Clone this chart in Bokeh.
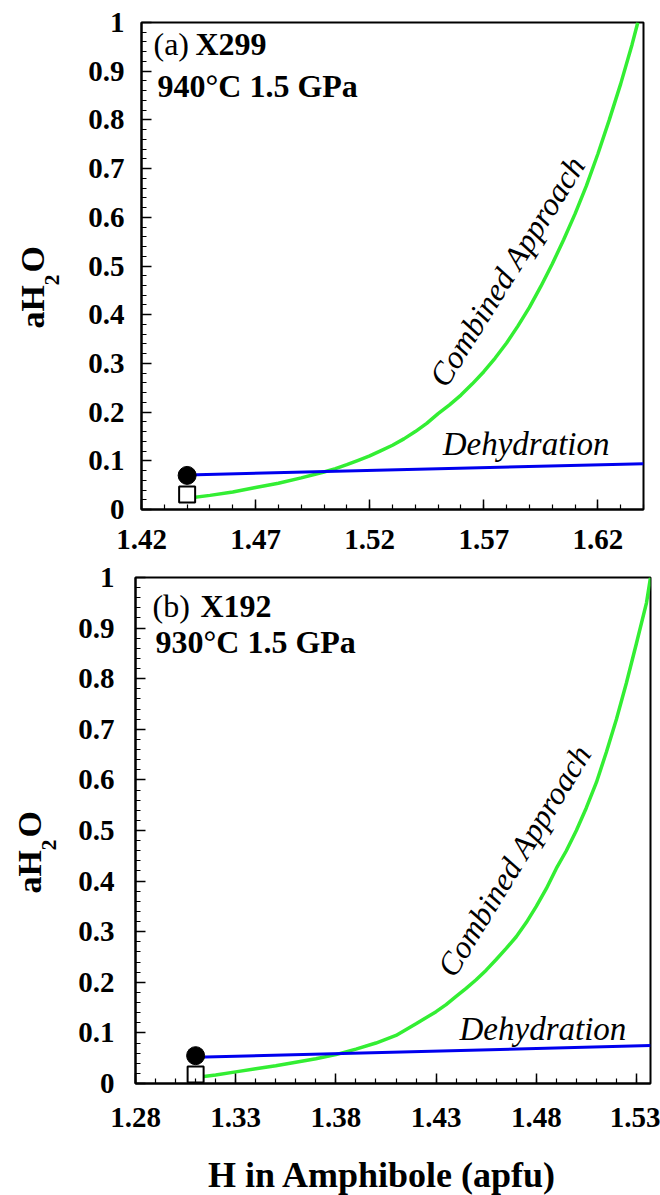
import math
from bokeh.plotting import figure
from bokeh.models import FixedTicker, Label, Range1d
from bokeh.layouts import column, row
from bokeh.embed import file_html
from bokeh.resources import INLINE

# ---------------- data: panel (a) X299, 940 C 1.5 GPa ----------------
a_comb_x = [1.44, 1.45, 1.46, 1.47, 1.48, 1.49, 1.50, 1.505, 1.51, 1.515, 1.52, 1.525,
            1.53, 1.535, 1.54, 1.545, 1.55, 1.555, 1.56, 1.565, 1.57, 1.575, 1.58,
            1.585, 1.59, 1.595, 1.60, 1.605, 1.61, 1.615, 1.62, 1.625, 1.63, 1.635, 1.6375]
a_comb_y = [0.023, 0.029, 0.036, 0.045, 0.054, 0.065, 0.077, 0.084, 0.092, 0.101, 0.110, 0.121,
            0.132, 0.145, 0.160, 0.177, 0.197, 0.215, 0.235, 0.258, 0.283, 0.311, 0.342,
            0.377, 0.415, 0.458, 0.504, 0.554, 0.607, 0.665, 0.730, 0.800, 0.874, 0.955, 1.0]
a_dehyd_x = [1.44, 1.64]
a_dehyd_y = [0.071, 0.094]
a_circle_x = [1.44]
a_circle_y = [0.070]
a_square_x = [1.44]
a_square_y = [0.031]
a_xtick_labels = ["1.42", "1.47", "1.52", "1.57", "1.62"]

# ---------------- data: panel (b) X192, 930 C 1.5 GPa ----------------
b_comb_x = [1.31, 1.32, 1.33, 1.34, 1.35, 1.36, 1.37, 1.38, 1.39, 1.40, 1.41, 1.42,
            1.43, 1.435, 1.44, 1.445, 1.45, 1.455, 1.46, 1.465, 1.47, 1.475, 1.48,
            1.485, 1.49, 1.495, 1.50, 1.505, 1.51, 1.515, 1.52, 1.525, 1.53, 1.535, 1.537]
b_comb_y = [0.012, 0.017, 0.023, 0.029, 0.035, 0.042, 0.049, 0.057, 0.068, 0.080, 0.095, 0.118,
            0.142, 0.156, 0.172, 0.188, 0.205, 0.224, 0.245, 0.267, 0.290, 0.318, 0.350,
            0.385, 0.425, 0.460, 0.500, 0.545, 0.595, 0.655, 0.720, 0.792, 0.870, 0.950, 1.0]
b_dehyd_x = [1.31, 1.537]
b_dehyd_y = [0.052, 0.075]
b_circle_x = [1.31]
b_circle_y = [0.055]
b_square_x = [1.31]
b_square_y = [0.018]
b_xtick_labels = ["1.28", "1.33", "1.38", "1.43", "1.48", "1.53"]

ytick_labels = ["0", "0.1", "0.2", "0.3", "0.4", "0.5", "0.6", "0.7", "0.8", "0.9", "1"]

FONT = "Liberation Serif"
GREEN = "#33ee33"
BLUE = "#0000ee"
LEFT_W = 72


def make_panel(width, height, mb, xr, xtick_labels, x_standoff, y_standoff):
    p = figure(width=width, height=height, output_backend="svg", toolbar_location=None,
               x_range=Range1d(*xr), y_range=Range1d(0, 1),
               min_border_left=mb[0], min_border_right=mb[1],
               min_border_top=mb[2], min_border_bottom=mb[3])
    p.xgrid.visible = False
    p.ygrid.visible = False
    p.outline_line_color = "black"
    p.outline_line_width = 2
    p.background_fill_color = "white"
    p.border_fill_color = "white"

    xt = [float(s) for s in xtick_labels]
    nminor = int(round((xr[1] - xr[0]) / 0.01))
    xminor = [round(xr[0] + 0.01 * i, 2) for i in range(nminor + 1)]
    p.xaxis.ticker = FixedTicker(ticks=xt, minor_ticks=xminor)
    p.xaxis.major_label_overrides = {float(s): s for s in xtick_labels}
    yt = [float(s) for s in ytick_labels]
    yminor = [round(0.02 * i, 2) for i in range(51)]
    p.yaxis.ticker = FixedTicker(ticks=yt, minor_ticks=yminor)
    p.yaxis.major_label_overrides = {float(s): s for s in ytick_labels}

    for ax in (p.xaxis, p.yaxis):
        ax.axis_line_width = 2
        ax.axis_line_color = "black"
        ax.major_tick_in = 10
        ax.major_tick_out = 0
        ax.minor_tick_in = 5
        ax.minor_tick_out = 0
        ax.major_tick_line_width = 1.5
        ax.minor_tick_line_width = 1.2
        ax.major_tick_line_color = "black"
        ax.minor_tick_line_color = "black"
        ax.major_label_text_font = FONT
        ax.major_label_text_font_style = "bold"
        ax.major_label_text_font_size = "29px"
        ax.major_label_text_color = "black"
    p.xaxis.major_label_standoff = x_standoff
    p.yaxis.major_label_standoff = y_standoff
    return p


def strip(width, height, top=0, bottom=0):
    s = figure(width=width, height=height, output_backend="svg", toolbar_location=None,
               x_axis_type=None, y_axis_type=None, x_range=Range1d(0, 1), y_range=Range1d(0, 1),
               min_border_left=0, min_border_right=0, min_border_top=top, min_border_bottom=bottom)
    s.outline_line_color = None
    s.background_fill_color = "white"
    s.border_fill_color = "white"
    return s


def ylabel_strip(height, top, bottom, x, y):
    s = strip(LEFT_W, height, top, bottom)
    common = dict(x_units="screen", y_units="screen", angle=math.pi / 2,
                  text_font=FONT, text_font_style="bold", text_color="black",
                  text_align="left", text_baseline="alphabetic")
    s.add_layout(Label(x=x, y=y, text="aH", text_font_size="34px", **common))
    s.add_layout(Label(x=x + 19, y=y + 43, text="2", text_font_size="22px", **common))
    s.add_layout(Label(x=x, y=y + 56, text="O", text_font_size="34px", **common))
    return s


def panel_title(p, tag, tag_x, name, name_x, y1, cond, cond_x, y2):
    base = dict(x_units="screen", y_units="screen", text_font=FONT,
                text_font_size="32px", text_color="black",
                text_align="left", text_baseline="alphabetic")
    p.add_layout(Label(x=tag_x, y=y1, text=tag, text_font_style="normal", **base))
    p.add_layout(Label(x=name_x, y=y1, text=name, text_font_style="bold", **base))
    p.add_layout(Label(x=cond_x, y=y2, text=cond, text_font_style="bold", **base))


def curve_labels(p, dx, dy, cx, cy, cang):
    p.add_layout(Label(x=dx, y=dy, text="Dehydration", text_font=FONT,
                       text_font_style="italic", text_font_size="33px", text_color="black",
                       text_align="left", text_baseline="alphabetic"))
    p.add_layout(Label(x=cx, y=cy, text="Combined Approach", angle=math.radians(cang),
                       text_font=FONT, text_font_style="italic", text_font_size="32px",
                       text_color="black", text_align="left", text_baseline="alphabetic"))


# ---------------- panel (a) ----------------
pa = make_panel(660 - LEFT_W, 561, (141 - LEFT_W, 17, 22, 52), (1.42, 1.64),
                a_xtick_labels, 20, 17)
pa.line(a_comb_x, a_comb_y, line_color=GREEN, line_width=3.5)
pa.line(a_dehyd_x, a_dehyd_y, line_color=BLUE, line_width=3)
pa.scatter(a_square_x, a_square_y, marker="square", size=16, fill_color="white",
           line_color="black", line_width=2)
pa.scatter(a_circle_x, a_circle_y, marker="circle", size=18, fill_color="black",
           line_color="black")
panel_title(pa, "(a)", 12, "X299", 54, 466, "940°C 1.5 GPa", 16, 424)
curve_labels(pa, 1.552, 0.1335, 1.5495, 0.2594, 58)
ya = ylabel_strip(561, 22, 52, 32, 181)

# ---------------- panel (b) ----------------
pb = make_panel(660 - LEFT_W, 580, (135 - LEFT_W, 10, 16, 58), (1.28, 1.537),
                b_xtick_labels, 24, 21)
pb.line(b_comb_x, b_comb_y, line_color=GREEN, line_width=3.5)
pb.line(b_dehyd_x, b_dehyd_y, line_color=BLUE, line_width=3)
pb.scatter(b_square_x, b_square_y, marker="square", size=16, fill_color="white",
           line_color="black", line_width=2)
pb.scatter(b_circle_x, b_circle_y, marker="circle", size=18, fill_color="black",
           line_color="black")
panel_title(pb, "(b)", 17, "X192", 65, 478, "930°C 1.5 GPa", 20, 442)
curve_labels(pb, 1.4417, 0.1078, 1.4345, 0.218, 58.5)
yb = ylabel_strip(580, 16, 58, 29, 190)

# ---------------- x-axis title ----------------
xl = strip(660, 54)
xl.add_layout(Label(x=382, y=21, x_units="screen", y_units="screen",
                    text="H in Amphibole (apfu)", text_font=FONT, text_font_style="bold",
                    text_font_size="36px", text_color="black", text_align="center",
                    text_baseline="alphabetic"))

layout = column(row(ya, pa, spacing=0), row(yb, pb, spacing=0), xl, spacing=0)
open("out.html", "w").write(file_html(layout, INLINE))
